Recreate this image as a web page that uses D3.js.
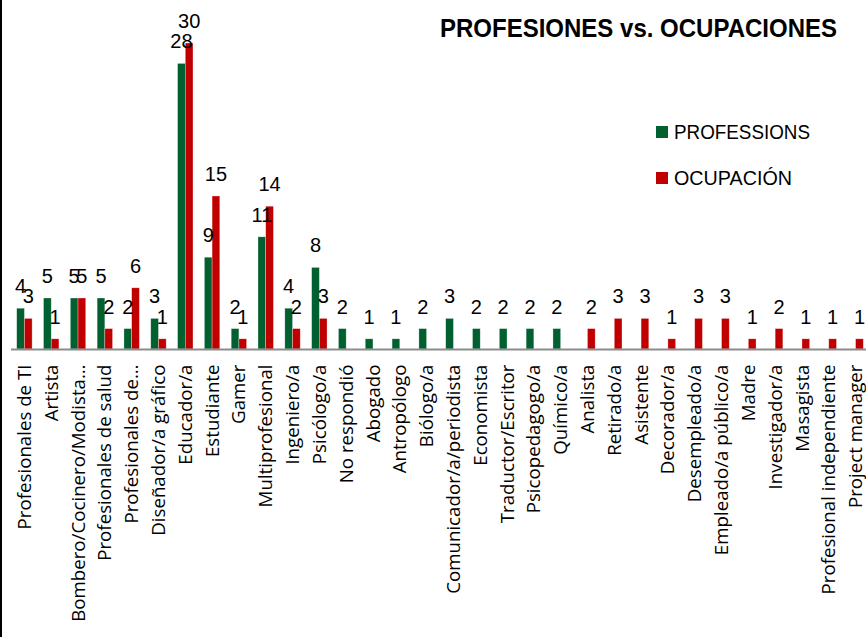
<!DOCTYPE html>
<html><head><meta charset="utf-8">
<script src="https://cdn.jsdelivr.net/npm/d3@7"></script>
<style>
html,body{margin:0;padding:0;background:#fff;}
svg{display:block;}
</style></head>
<body>
<svg id="chart" width="866" height="637"></svg>
<script>
const categories = ["Profesionales de TI","Artista","Bombero/Cocinero/Modista…","Profesionales de salud","Profesionales de…","Diseñador/a gráfico","Educador/a","Estudiante","Gamer","Multiprofesional","Ingeniero/a","Psicólogo/a","No respondió","Abogado","Antropólogo","Biólogo/a","Comunicador/a/periodista","Economista","Traductor/Escritor","Psicopedagogo/a","Químico/a","Analista","Retirado/a","Asistente","Decorador/a","Desempleado/a","Empleado/a público/a","Madre","Investigador/a","Masagista","Profesional independiente","Project manager"];
const professions = [4,5,5,5,2,3,28,9,2,11,4,8,2,1,1,2,3,2,2,2,2,null,null,null,null,null,null,null,null,null,null,null];
const ocupacion = [3,1,5,2,6,1,30,15,1,14,2,3,null,null,null,null,null,null,null,null,null,2,3,3,1,3,3,1,2,1,1,1];
const seriesNames = ["PROFESSIONS","OCUPACIÓN"];
const title = "PROFESIONES vs. OCUPACIONES";

const colors = ["#00602F","#C00000"];
const svg = d3.select("#chart");
const W = 866, H = 637;

// left border
svg.append("rect").attr("x",0).attr("y",0).attr("width",2).attr("height",H).attr("fill","#000");

const x0 = d3.scaleBand().domain(categories).range([11, 869]).paddingInner(0.425).paddingOuter(0.2125);
const x1 = d3.scaleBand().domain([0,1]).range([0, x0.bandwidth()]);
const y = d3.scaleLinear().domain([0,30]).range([349,43]);

const data = categories.map((c,i)=>({c, v:[professions[i], ocupacion[i]]}));

const g = svg.append("g");
const groups = g.selectAll("g.grp").data(data).join("g").attr("class","grp")
  .attr("transform", d=>`translate(${x0(d.c)},0)`);

groups.selectAll("rect").data(d=>d.v.map((v,k)=>({v,k})).filter(e=>e.v!=null)).join("rect")
  .attr("x", e=>x1(e.k)).attr("width", x1.bandwidth())
  .attr("y", e=>y(e.v)).attr("height", e=>y(0)-y(e.v))
  .attr("fill", e=>colors[e.k])
  .attr("stroke","rgba(255,255,255,0.5)").attr("stroke-width",0.6);

// axis line
const axis = d3.axisBottom(x0).tickSize(0).tickPadding(0);
const ax = svg.append("g").attr("transform","translate(0,349.5)").call(axis);
ax.select(".domain").attr("stroke","#8c8c8c").attr("stroke-width",2).attr("d","M11,0H866");
ax.selectAll(".tick text")
  .attr("transform","rotate(-90)")
  .attr("text-anchor","end")
  .attr("x",-15).attr("y",0).attr("dy","0.35em")
  .style("font-family","'Open Sans', 'DejaVu Sans', sans-serif")
  .style("font-size","18.7px").attr("fill","#000");

// value labels
groups.selectAll("text.val").data(d=>d.v.map((v,k)=>({v,k})).filter(e=>e.v!=null)).join("text")
  .attr("class","val")
  .attr("x", e=>x1(e.k)+x1.bandwidth()/2)
  .attr("y", e=>y(e.v)-15)
  .attr("text-anchor","middle")
  .style("font-family","'Liberation Sans', Arial, sans-serif")
  .style("font-size","20px").attr("fill","#000")
  .text(e=>e.v);

// title
svg.append("text").attr("x",440).attr("y",37)
  .attr("textLength",397).attr("lengthAdjust","spacingAndGlyphs")
  .style("font-family","'Liberation Sans', sans-serif")
  .style("font-weight","bold").style("font-size","26px").attr("fill","#000")
  .text(title);

// legend
const legLens = [136, 118];
const leg = svg.append("g");
seriesNames.forEach((n,i)=>{
  const cy = 132 + i*46;
  leg.append("rect").attr("x",656).attr("y",cy-6).attr("width",12).attr("height",12).attr("fill",colors[i]);
  leg.append("text").attr("x",674).attr("y",cy).attr("dy","0.36em")
    .attr("textLength",legLens[i]).attr("lengthAdjust","spacingAndGlyphs")
    .style("font-family","'Liberation Sans', sans-serif")
    .style("font-size","20.5px").attr("fill","#000").text(n);
});
</script>
</body></html>
